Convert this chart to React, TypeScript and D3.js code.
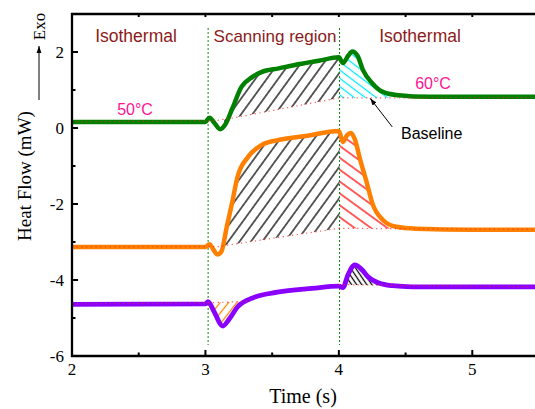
import React from 'react';
import * as d3 from 'd3';

type P = [number, number];

// ---- data ----
const greenCurve: P[] = [
  [2, 0.16], [3.0, 0.16], [3.03, 0.27], [3.07, 0.12], [3.11, -0.03], [3.15, 0.1], [3.2, 0.5],
  [3.27, 1.08], [3.35, 1.34], [3.42, 1.47], [3.55, 1.57], [3.67, 1.66], [3.85, 1.77], [4.0, 1.86],
  [4.03, 1.71], [4.07, 1.9], [4.1, 2.01], [4.14, 1.9], [4.18, 1.53], [4.25, 1.18], [4.33, 0.95],
  [4.43, 0.87], [4.68, 0.82], [5.0, 0.82], [5.5, 0.82],
];
const orangeCurve: P[] = [
  [2, -3.13], [3.0, -3.13], [3.03, -3.06], [3.06, -3.2], [3.09, -3.33], [3.12, -3.25], [3.16, -2.6],
  [3.2, -1.97], [3.24, -1.29], [3.32, -0.76], [3.42, -0.45], [3.54, -0.32], [3.75, -0.21], [4.0, -0.08],
  [4.03, -0.37], [4.06, -0.2], [4.09, -0.13], [4.12, -0.3], [4.16, -0.84], [4.21, -1.45], [4.25, -1.97],
  [4.33, -2.42], [4.43, -2.6], [4.58, -2.65], [5.0, -2.68], [5.5, -2.68],
];
const purpleCurve: P[] = [
  [2, -4.64], [3.0, -4.63], [3.02, -4.57], [3.06, -4.8], [3.13, -5.21], [3.18, -5.02], [3.24, -4.71],
  [3.37, -4.45], [3.54, -4.32], [3.8, -4.22], [4.0, -4.16], [4.03, -4.2], [4.07, -3.85], [4.12, -3.6],
  [4.17, -3.72], [4.22, -3.92], [4.3, -4.08], [4.4, -4.15], [4.55, -4.18], [5.5, -4.18],
];
const greenBase: P[] = [[2, 0.16], [3.07, 0.19], [3.2, 0.26], [4.0, 0.79], [5.5, 0.8]];
const orangeBase: P[] = [[2, -3.13], [3.1, -3.12], [3.17, -3.08], [4.0, -2.64], [5.5, -2.67]];
const purpleBaseA: P[] = [[2, -4.63], [3.02, -4.6], [3.33, -4.56]];
const purpleBaseB: P[] = [[4.0, -4.12], [4.4, -4.14], [5.5, -4.18]];

const phaseLines = [3.02, 4.005];
const yMajor = [-6, -4, -2, 0, 2];
const yMinor = [-5, -3, -1, 1];
const xMajor = [2, 3, 4, 5];
const xMinor = [2.5, 3.5, 4.5];
const regionLabels = ['Isothermal', 'Scanning region', 'Isothermal'];
const tempLabels = ['50\u00B0C', '60\u00B0C'];

export default function App() {
  const W = 535, H = 409;
  const x = d3.scaleLinear().domain([2, 5.5]).range([72, 539]);
  const y = d3.scaleLinear().domain([-6, 3]).range([356, 14]);
  const smooth = d3.line<P>().x(d => x(d[0])).y(d => y(d[1])).curve(d3.curveMonotoneX);
  const straight = d3.line<P>().x(d => x(d[0])).y(d => y(d[1]));

  const areaClip = (curve: P[], base: P[]) => {
    const rev = base.slice().reverse().map(p => `L${x(p[0])},${y(p[1])}`).join('');
    return (smooth(curve) || '') + rev + 'Z';
  };

  const hatches = [
    { id: 'gB', curve: greenCurve, base: greenBase, x0: 3.14, x1: 4.005, pat: 'pBlack' },
    { id: 'gC', curve: greenCurve, base: greenBase, x0: 4.005, x1: 4.45, pat: 'pCyan' },
    { id: 'oB', curve: orangeCurve, base: orangeBase, x0: 3.13, x1: 4.005, pat: 'pBlack' },
    { id: 'oR', curve: orangeCurve, base: orangeBase, x0: 4.005, x1: 4.5, pat: 'pRed' },
    { id: 'pO', curve: purpleCurve, base: purpleBaseA, x0: 3.03, x1: 3.33, pat: 'pOrange' },
    { id: 'pK', curve: purpleCurve, base: purpleBaseB, x0: 4.06, x1: 4.3, pat: 'pBlack2' },
  ];

  const pattern = (id: string, color: string, sp: number, rot: number, sw = 1.25) => (
    <pattern id={id} patternUnits="userSpaceOnUse" width={sp} height={20} patternTransform={`rotate(${rot})`}>
      <line x1={sp / 2} y1={-1} x2={sp / 2} y2={21} stroke={color} strokeWidth={sw} />
    </pattern>
  );

  const serif = '"Liberation Serif", "Times New Roman", serif';
  const sans = '"Liberation Sans", Arial, sans-serif';
  const x0 = x(2), yb = y(-6), yt = y(3);

  return (
    <svg width={W} height={H} style={{ position: 'absolute', left: 0, top: 0 }}>
      <defs>
        {pattern('pBlack', '#000', 9.2, 36)}
        {pattern('pBlack2', '#000', 4.2, -34)}
        {pattern('pCyan', '#00e8ff', 6.6, -53)}
        {pattern('pRed', '#ff0000', 9.6, -54)}
        {pattern('pOrange', '#ff8000', 6.6, 38)}
        {hatches.map(h => (
          <React.Fragment key={h.id}>
            <clipPath id={`r-${h.id}`}>
              <rect x={x(h.x0)} y={0} width={x(h.x1) - x(h.x0)} height={H} />
            </clipPath>
            <clipPath id={`a-${h.id}`}>
              <path d={areaClip(h.curve, h.base)} clipRule="evenodd" />
            </clipPath>
          </React.Fragment>
        ))}
        <marker id="arrow" viewBox="0 0 10 10" refX={10} refY={5} markerWidth={7} markerHeight={7} orient="auto">
          <path d="M0,1.5 L10,5 L0,8.5 z" fill="#000" />
        </marker>
      </defs>

      {/* hatch fills */}
      {hatches.map(h => (
        <g key={h.id} clipPath={`url(#r-${h.id})`}>
          <rect x={0} y={0} width={W} height={H} fill={`url(#${h.pat})`} clipPath={`url(#a-${h.id})`} />
        </g>
      ))}

      {/* phase boundaries */}
      {phaseLines.map(v => (
        <line key={v} x1={x(v)} x2={x(v)} y1={28} y2={345} stroke="#0a8a0a" strokeWidth={1} strokeDasharray="2,2" />
      ))}

      {/* curves */}
      <path d={smooth(greenCurve) || ''} fill="none" stroke="#008000" strokeWidth={4.5} strokeLinejoin="round" />
      <path d={smooth(orangeCurve) || ''} fill="none" stroke="#ff8000" strokeWidth={4.5} strokeLinejoin="round" />
      <path d={smooth(purpleCurve) || ''} fill="none" stroke="#8a00ff" strokeWidth={4.8} strokeLinejoin="round" />

      {/* baselines */}
      {[greenBase, orangeBase, purpleBaseA, purpleBaseB].map((b, i) => (
        <path key={i} d={straight(b) || ''} fill="none" stroke="#ff2020" strokeOpacity={0.75} strokeWidth={1.2} strokeDasharray="1.2,3.5" />
      ))}

      {/* axes frame */}
      <line x1={x0} x2={x0} y1={yt - 1} y2={yb + 1} stroke="#000" strokeWidth={2.3} />
      <line x1={x0 - 1} x2={W} y1={yb} y2={yb} stroke="#000" strokeWidth={2.3} />
      <line x1={x0 - 1} x2={W} y1={yt} y2={yt} stroke="#000" strokeWidth={2.3} />
      {yMajor.map(v => <line key={'ym' + v} x1={x0} x2={x0 + 6} y1={y(v)} y2={y(v)} stroke="#000" strokeWidth={2} />)}
      {yMinor.map(v => <line key={'yn' + v} x1={x0} x2={x0 + 3.5} y1={y(v)} y2={y(v)} stroke="#000" strokeWidth={2} />)}
      {xMajor.map(v => <line key={'xm' + v} x1={x(v)} x2={x(v)} y1={yb} y2={yb - 6} stroke="#000" strokeWidth={2} />)}
      {xMinor.map(v => <line key={'xn' + v} x1={x(v)} x2={x(v)} y1={yb} y2={yb - 3.5} stroke="#000" strokeWidth={2} />)}
      {[...xMajor, ...xMinor].map(v => <line key={'xt' + v} x1={x(v)} x2={x(v)} y1={yt} y2={yt + 3} stroke="#000" strokeWidth={2} />)}

      {/* tick labels */}
      {yMajor.map(v => (
        <text key={'yl' + v} x={64} y={y(v) + 6} textAnchor="end" fontFamily={serif} fontSize={17}>{v}</text>
      ))}
      {xMajor.map(v => (
        <text key={'xl' + v} x={x(v)} y={375} textAnchor="middle" fontFamily={serif} fontSize={17}>{v}</text>
      ))}

      {/* axis titles */}
      <text x={303} y={403} textAnchor="middle" fontFamily={serif} fontSize={20}>Time (s)</text>
      <text transform="translate(31,176) rotate(-90)" textAnchor="middle" fontFamily={serif} fontSize={19}>Heat Flow (mW)</text>
      <text transform="translate(45,26.5) rotate(-90)" textAnchor="middle" fontFamily={serif} fontSize={17}>Exo</text>
      <line x1={39} x2={39} y1={100} y2={46} stroke="#000" strokeWidth={1} markerEnd="url(#arrow)" />

      {/* region labels */}
      <text x={136} y={42} textAnchor="middle" fontFamily={sans} fontSize={17.5} fill="#8b1c1c">{regionLabels[0]}</text>
      <text x={275} y={42} textAnchor="middle" fontFamily={sans} fontSize={17} fill="#8b1c1c">{regionLabels[1]}</text>
      <text x={420} y={42} textAnchor="middle" fontFamily={sans} fontSize={17.5} fill="#8b1c1c">{regionLabels[2]}</text>

      <text x={135} y={115} textAnchor="middle" fontFamily={sans} fontSize={16} fill="#ff1493">{tempLabels[0]}</text>
      <text x={433} y={89} textAnchor="middle" fontFamily={sans} fontSize={16} fill="#ff1493">{tempLabels[1]}</text>

      <text x={401} y={139} fontFamily={sans} fontSize={16} fill="#000">Baseline</text>
      <line x1={x(4.4)} y1={y(0.03)} x2={x(4.235)} y2={y(0.78)} stroke="#000" strokeWidth={1} markerEnd="url(#arrow)" />
    </svg>
  );
}
